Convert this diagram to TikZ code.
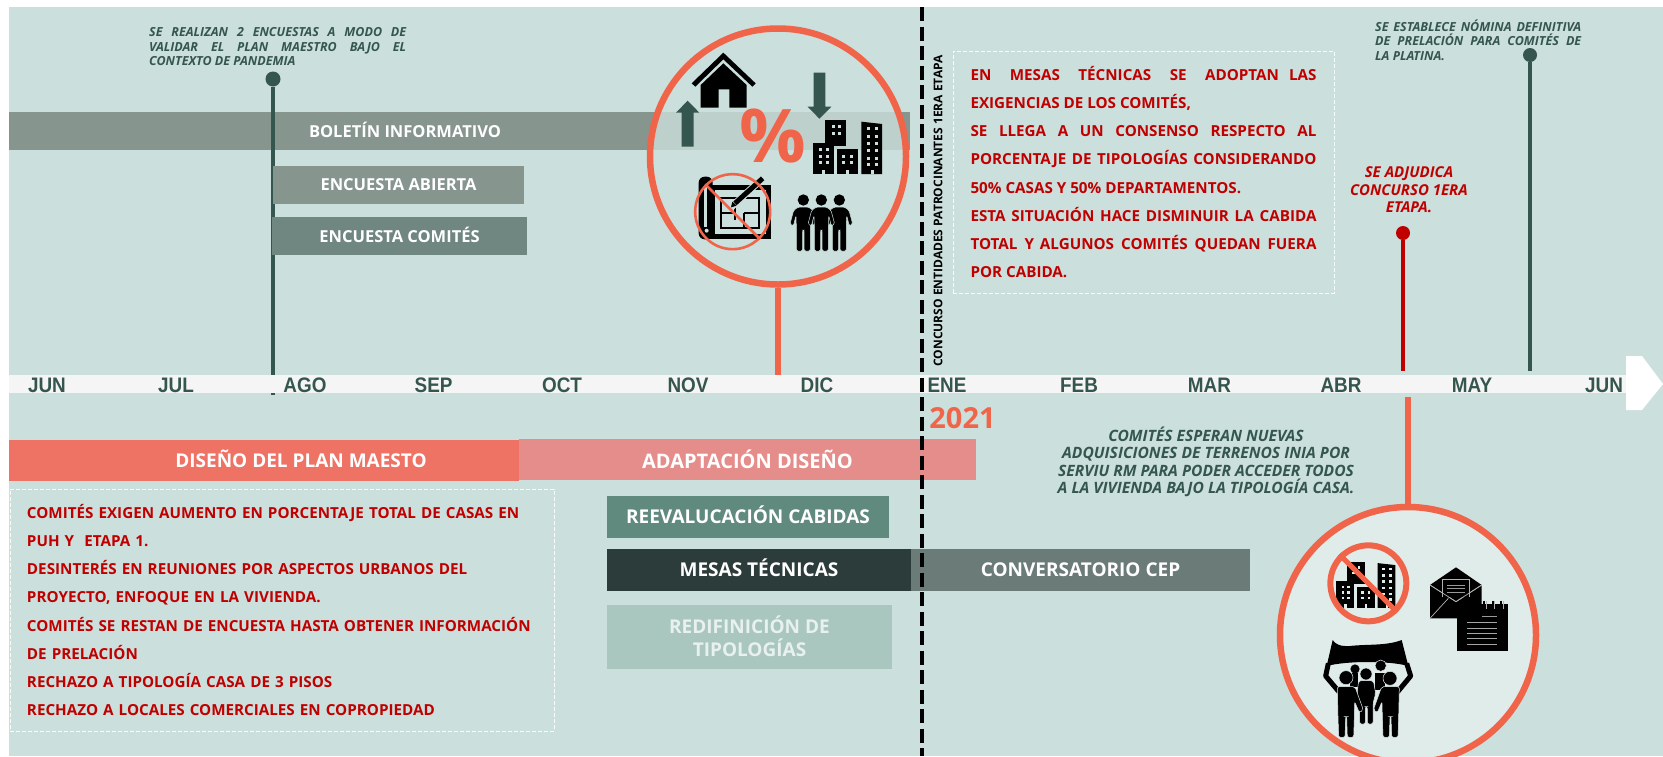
\documentclass[tikz,border=0pt]{standalone}
\usepackage{fontspec}
\setmainfont{Open Sans}
\newfontfamily\armo[FakeStretch=0.9]{Liberation Sans}
\newcommand\fsz[2]{\fontsize{#1}{#2}\selectfont}
\newcommand\jl[2]{\makebox[#1][s]{#2}}
\definecolor{bgc}{HTML}{CBDFDC}
\definecolor{orng}{HTML}{F0654A}
\definecolor{redt}{HTML}{C00000}
\definecolor{gdark}{HTML}{35564F}
\definecolor{bargrey}{HTML}{87958F}
\definecolor{circfill}{HTML}{E0ECEA}
\definecolor{barcom}{HTML}{6F8681}
\definecolor{barplan}{HTML}{EE7365}
\definecolor{baradapt}{HTML}{E58D8B}
\definecolor{barreev}{HTML}{5F8A7D}
\definecolor{barcon}{HTML}{6B7B78}
\definecolor{barmes}{HTML}{2C3C3A}
\definecolor{barred}{HTML}{A9C6BF}
\tikzset{
  x=1pt,y=-1pt,
  barbox/.style={inner sep=0pt,outer sep=0pt,font=\bfseries\fsz{16.5}{23},text=white,align=center},
  bigbar/.style={barbox,font=\bfseries\fsz{19}{23}},
  liftbar/.style={text height=15pt,text depth=3pt},
  month/.style={font=\armo\bfseries\fsz{21}{21},text=gdark,inner sep=0pt},
  dashbox/.style={draw=white!92!bgc,dashed,dash pattern=on 4pt off 2pt,line width=1pt,inner ysep=0pt,text=redt,align=left,font=\bfseries\fsz{15.2}{28.1}},
  notegreen/.style={font=\bfseries\itshape\fsz{12.5}{14.6},text=gdark,align=left,inner sep=0pt},
  pin/.style={circle,inner sep=0pt,minimum size=15pt,fill=#1},
  bigring/.style={circle,draw=orng,line width=6.5pt,minimum size=256pt,inner sep=0pt},
  pics/people/.style={code={
    \foreach \dx in {-54,54,0}{
      \begin{scope}[xshift=\dx*0.3333pt]
      \fill[black,draw=#1,line width=.5pt,rounded corners=1.5pt] (-15,21) -- (15,21) -- (29,31) -- (40,72) -- (30,78) -- (22,46) -- (21,80) -- (21,153) -- (2,153) -- (2,90) -- (-2,90) -- (-2,153) -- (-21,153) -- (-21,80) -- (-22,46) -- (-30,78) -- (-40,72) -- (-29,31) -- cycle;
      \fill[black] (0,0) circle (17);
      \end{scope}
    }}},
  pics/towers/.style={code={
    \fill[black] (37,0) rectangle (101,78);
    \fill[black] (0,68) rectangle (64,162);
    \fill[black] (74,88) rectangle (137,162);
    \fill[black] (146,5) -- (208,12) -- (208,162) -- (146,162) -- cycle;
    \foreach \wx/\wy in {24/88,44/88,24/108,44/108,24/128,44/128,62/20,80/20,62/40,80/40,92/108,116/108,92/128,116/128,
      167/26,190/26,167/48,190/48,167/70,190/70,167/92,190/92,167/114,190/114,167/132,190/132}{
      \fill[#1] (\wx-4.5,\wy-4.5) rectangle (\wx+4.5,\wy+4.5);
    }
    \foreach \wx in {28,101,174}{\fill[#1] (\wx,150) rectangle (\wx+9,162);}
  }},
}
\begin{document}
\begin{tikzpicture}
\useasboundingbox (0,0) rectangle (1663,756);
\clip (0,0) rectangle (1663,756);
\fill[bgc] (9,7) rectangle (1663,756);

% pin lines behind the bars
\coordinate (t1) at (273,395);
\coordinate (t2) at (1403,371);
\coordinate (t3) at (1530,371);
\node[pin=gdark] (p1) at (273,79) {};
\node[pin=redt,minimum size=14pt] (p2) at (1403,233) {};
\node[pin=gdark,minimum size=14pt] (p3) at (1530,55) {};
\draw[gdark,line width=3.2pt] (p1) -- (t1);
\draw[redt,line width=3.2pt] (p2) -- (t2);
\draw[gdark,line width=3.2pt] (p3) -- (t3);

% upper bars
\node[barbox,fill=bargrey,minimum width=901pt,minimum height=38pt] (bol) at (459.5,131) {};
\draw[gdark,line width=3.2pt] (273,112) -- (273,150);
\node[barbox,inner sep=0pt] (bolt) at (405,130) {BOLETÍN INFORMATIVO};
\node[barbox,fill=bargrey,minimum width=251pt,minimum height=38pt] (enca) at (398.5,185) {ENCUESTA ABIERTA};
\node[barbox,liftbar,fill=barcom,minimum width=255pt,minimum height=38pt] (encc) at (399.5,236) {ENCUESTA COMITÉS};

% timeline
\fill[white!96!black] (9,375) rectangle (1626,393);
\fill[white] (1626,356) -- (1642,356) -- (1663,384) -- (1642,410) -- (1626,410) -- cycle;
\node[month] (m1) at (47,385) {JUN};
\node[month] (m2) at (176,385) {JUL};
\node[month] (m3) at (305,385) {AGO};
\node[month] (m4) at (433.6,385) {SEP};
\node[month] (m5) at (562,385) {OCT};
\node[month] (m6) at (688,385) {NOV};
\node[month] (m7) at (817,385) {DIC};
\node[month] (m8) at (947,385) {ENE};
\node[month] (m9) at (1079,385) {FEB};
\node[month] (m10) at (1209.5,385) {MAR};
\node[month] (m11) at (1341,385) {ABR};
\node[month] (m12) at (1472,385) {MAY};
\node[month] (m13) at (1604,385) {JUN};
\node[inner sep=0pt,text=orng,font=\bfseries\fsz{29}{29}] (yr) at (962.5,418) {2021};

% lower bars
\node[barbox,fill=barplan,minimum width=510pt,minimum height=41pt] (dis) at (264,460.5) {};
\node[bigbar] (dist) at (301,459) {DISEÑO DEL PLAN MAESTO};
\node[bigbar,fill=baradapt,minimum width=457pt,minimum height=41pt,font=\bfseries\fsz{20}{23}] (ada) at (747.5,459.5) {ADAPTACIÓN DISEÑO};
\node[bigbar,liftbar,fill=barreev,minimum width=282pt,minimum height=42pt] (ree) at (748,517) {REEVALUCACIÓN CABIDAS};
\node[bigbar,fill=barcon,minimum width=339pt,minimum height=42pt] (con) at (1080.5,570) {CONVERSATORIO CEP};
\node[bigbar,liftbar,fill=barmes,minimum width=304pt,minimum height=42pt] (mes) at (759,570) {MESAS TÉCNICAS};
\node[bigbar,fill=barred,minimum width=285pt,minimum height=64pt,text=white!55!bgc] (red) at (749.5,637) {\raisebox{1pt}{REDIFINICIÓN DE}\\\raisebox{1pt}{TIPOLOGÍAS}};

% dashed text boxes
\node[dashbox,minimum width=381pt,minimum height=242pt,inner xsep=17pt] (box1) at (1143.5,172) {%
\jl{346pt}{EN MESAS TÉCNICAS SE ADOPTAN\hspace{10pt}LAS}\\
EXIGENCIAS DE LOS COMITÉS,\\
\jl{346pt}{SE LLEGA A UN CONSENSO RESPECTO AL}\\
\jl{346pt}{PORCENTAJE DE TIPOLOGÍAS CONSIDERANDO}\\
50\% CASAS Y 50\% DEPARTAMENTOS.\\
\jl{346pt}{ESTA SITUACIÓN HACE DISMINUIR LA CABIDA}\\
\jl{346pt}{TOTAL Y\hspace{6pt}ALGUNOS COMITÉS QUEDAN FUERA}\\
POR CABIDA.};
\node[dashbox,minimum width=544pt,minimum height=242pt,inner xsep=17pt,text width=510pt] (box2) at (282,610) {%
COMITÉS EXIGEN AUMENTO EN PORCENTAJE TOTAL DE CASAS EN\\
PUH Y\hspace{5pt} ETAPA 1.\\
DESINTERÉS EN REUNIONES POR ASPECTOS URBANOS DEL\\
PROYECTO, ENFOQUE EN LA VIVIENDA.\\
COMITÉS SE RESTAN DE ENCUESTA HASTA OBTENER INFORMACIÓN\\
DE PRELACIÓN\\
RECHAZO A TIPOLOGÍA CASA DE 3 PISOS\\
RECHAZO A LOCALES COMERCIALES EN COPROPIEDAD};

% notes
\node[notegreen,anchor=north west] (n1) at (149,27.5) {%
\jl{257pt}{SE REALIZAN 2 ENCUESTAS A MODO DE}\\
\jl{257pt}{VALIDAR EL PLAN MAESTRO BAJO EL}\\
CONTEXTO DE PANDEMIA};
\node[notegreen,anchor=north west] (n2) at (1375,19.5) {%
\jl{206pt}{SE ESTABLECE NÓMINA DEFINITIVA}\\
\jl{206pt}{DE PRELACIÓN PARA COMITÉS DE}\\
LA PLATINA.};
\node[inner sep=0pt,align=center,text=redt,font=\bfseries\itshape\fsz{15}{17.6}] (n3) at (1409,190) {SE ADJUDICA\\CONCURSO 1ERA\\ETAPA.};
\node[inner sep=0pt,align=center,text=gdark,font=\bfseries\itshape\fsz{15.6}{17.4}] (n4) at (1206,462) {COMITÉS ESPERAN NUEVAS\\ADQUISICIONES DE TERRENOS INIA POR\\SERVIU RM PARA PODER ACCEDER TODOS\\A LA VIVIENDA BAJO LA TIPOLOGÍA CASA.};

% ring 1
\node[bigring,fill=bgc,fill opacity=.8] (c1) at (778,156.5) {};
\coordinate (s1) at (778,375);
\draw[orng,line width=6pt] (c1.south) -- (s1);
% ring 2
\node[bigring,fill=circfill] (c2) at (1408,635) {};
\coordinate (s2) at (1408,397);
\draw[orng,line width=6pt] (s2) -- (c2.north);

% icons ring 1 (zoom coordinates)
\begin{scope}[shift={(620,30)},x=0.33333pt,y=-0.33333pt]
  \fill[black] (215,160) -- (310,68) -- (407,160) -- (397,170) -- (310,88) -- (226,170) -- cycle;
  \fill[black] (242,165) -- (310,100) -- (380,165) -- (380,233) -- (328,233) -- (328,178) -- (296,178) -- (296,233) -- (242,233) -- cycle;
  \fill[gdark] (203,212) -- (238,248) -- (221,248) -- (221,350) -- (185,350) -- (185,248) -- (168,248) -- cycle;
  \fill[gdark] (581,128) -- (616,128) -- (616,230) -- (634,230) -- (598,266) -- (563,230) -- (581,230) -- cycle;
  \pic at (578,270) {towers=bgc};
  \pic at (604,510) {people=bgc};
  % blueprint
  \fill[black,rounded corners=6pt] (236,440) rectangle (278,628);
  \fill[black] (262,466) rectangle (452,628);
  \fill[bgc] (284,480) rectangle (438,612);
  \fill[bgc] (252,468) rectangle (262,590);
  \fill[bgc] (260,602) circle (6);
  \draw[black,line width=2.2pt] (302,505) rectangle (416,594);
  \draw[black,line width=1.8pt] (302,548) -- (345,548) (345,530) -- (345,570) (372,548) -- (416,548) (372,548) -- (372,594);
  \draw[bgc,line width=7pt] (335,530) -- (430,443);
  \draw[black,line width=5pt] (345,520) -- (428,445);
  \fill[black] (333,532) -- (337,515) -- (350,527) -- cycle;
  \node[circle,draw=orng,line width=2.6pt,minimum size=75pt,inner sep=0pt] (ban1) at (338,545) {};
  \draw[orng,line width=2.6pt] (ban1.135) -- (ban1.315);
\end{scope}
\node[inner sep=0pt,text=orng,font=\bfseries\fsz{74}{74}] (pct) at (773,136) {\%};

% icons ring 2 (zoom coordinates)
\begin{scope}[shift={(1260,490)},x=0.33333pt,y=-0.33333pt]
  \pic[scale=.856] at (228,215) {towers=circfill};
  \node[circle,draw=orng,line width=6pt,minimum size=76pt,inner sep=0pt] (ban2) at (325,280) {};
  \draw[orng,line width=5pt] (ban2.135) -- (ban2.315);
  % envelope
  \fill[black] (510,285) -- (588,232) -- (665,285) -- (665,385) -- (510,385) -- cycle;
  \draw[black!30,line width=.7pt] (510,285) -- (588,335) -- (665,285) (510,385) -- (565,325);
  \fill[black] (548,268) rectangle (628,320);
  \draw[black!30,line width=.7pt] (548,320) -- (548,268) -- (628,268) -- (628,320);
  \draw[black!40,line width=1pt] (562,285) -- (614,285) (562,296) -- (614,296) (562,307) -- (614,307);
  \draw[black!30,line width=.7pt] (510,285) -- (588,335) -- (665,285);
  % notepad
  \fill[black] (590,342) rectangle (745,483);
  \foreach \rx in {672,698,724}{\draw[black,line width=2pt] (\rx,332) -- (\rx,360);\draw[black!30,line width=.6pt] (\rx+6,334) -- (\rx+6,358);}
  \draw[black!40,line width=1pt] (665,380) -- (712,380);
  \foreach \ry in {398,414,430,446,462}{\draw[black!35,line width=1pt] (622,\ry) -- (712,\ry);}
  % protest
  \fill[black] (218,450) .. controls (225,462) and (240,470) .. (270,468) .. controls (320,462) and (380,468) .. (425,450) -- (445,528) .. controls (390,512) and (260,512) .. (200,528) -- cycle;
  \draw[black,line width=5pt,line join=round] (205,520) -- (197,558) -- (245,615);
  \draw[black,line width=5pt,line join=round] (440,520) -- (452,558) -- (405,615);
  \fill[black,draw=circfill,line width=.5pt] (285,537) circle (15);
  \fill[black,draw=circfill,line width=.5pt] (362,527) circle (17);
  \fill[black] (345,550) rectangle (375,600);
  \fill[black] (270,550) rectangle (295,590);
  \fill[black,draw=circfill,line width=.5pt,rounded corners=2pt] (296,572) -- (340,572) -- (347,610) -- (339,640) -- (339,702) -- (322,702) -- (322,650) -- (316,650) -- (316,702) -- (299,702) -- (299,640) -- (291,610) -- cycle;
  \fill[black,draw=circfill,line width=.5pt] (318,552) circle (18);
  \fill[black,draw=circfill,line width=.5pt,rounded corners=2pt] (232,590) -- (285,590) -- (310,660) -- (298,668) -- (284,635) -- (283,680) -- (281,742) -- (262,742) -- (260,680) -- (257,680) -- (255,742) -- (236,742) -- (234,680) -- cycle;
  \fill[black,draw=circfill,line width=.5pt,rounded corners=2pt] (418,590) -- (365,590) -- (340,660) -- (352,668) -- (366,635) -- (367,680) -- (369,742) -- (388,742) -- (390,680) -- (393,680) -- (395,742) -- (414,742) -- (416,680) -- cycle;
  \fill[black,draw=circfill,line width=.5pt] (258,563) circle (21);
  \fill[black,draw=circfill,line width=.5pt] (390,565) circle (21);
\end{scope}

% dashed divider and rotated label
\coordinate (dv1) at (922,7);
\coordinate (dv2) at (922,756);
\draw[black,line width=3.4pt,dash pattern=on 14pt off 5.5pt] (dv1) -- (dv2);
\node[rotate=90,inner sep=0pt,text=black,font=\bfseries\fsz{12}{12}] (rot) at (938,211) {CONCURSO ENTIDADES PATROCINANTES 1ERA ETAPA};
\end{tikzpicture}
\end{document}
